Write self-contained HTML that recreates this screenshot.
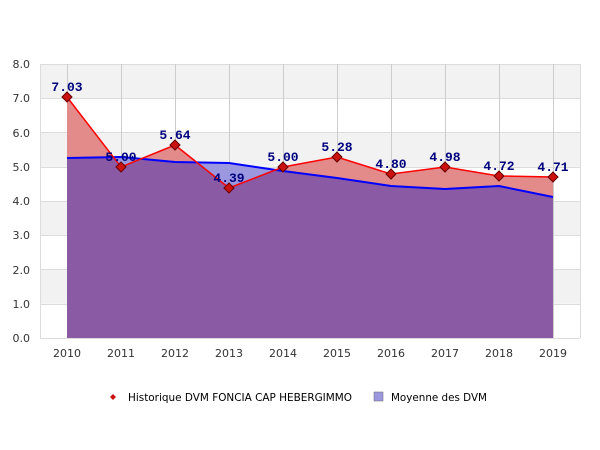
<!DOCTYPE html>
<html><head><style>body{margin:0;background:#fff}svg{display:block;font-family:"DejaVu Sans","Liberation Sans",sans-serif}</style></head><body>
<svg width="600" height="450" viewBox="0 0 600 450">
<rect x="40" y="64" width="540" height="34.25" fill="#f2f2f2"/>
<rect x="40" y="132.5" width="540" height="34.25" fill="#f2f2f2"/>
<rect x="40" y="201" width="540" height="34.25" fill="#f2f2f2"/>
<rect x="40" y="269.5" width="540" height="34.25" fill="#f2f2f2"/>
<g stroke="#dcdcdc" stroke-width="1">
<line x1="40" y1="64.5" x2="580" y2="64.5"/><line x1="40" y1="98.5" x2="580" y2="98.5"/><line x1="40" y1="132.5" x2="580" y2="132.5"/><line x1="40" y1="167.5" x2="580" y2="167.5"/><line x1="40" y1="201.5" x2="580" y2="201.5"/><line x1="40" y1="235.5" x2="580" y2="235.5"/><line x1="40" y1="269.5" x2="580" y2="269.5"/><line x1="40" y1="304.5" x2="580" y2="304.5"/><line x1="40" y1="338.5" x2="580" y2="338.5"/>
<line x1="40.5" y1="64" x2="40.5" y2="338"/><line x1="580.5" y1="64" x2="580.5" y2="338"/>
</g>
<g stroke="#cccccc"><line x1="67.5" y1="64" x2="67.5" y2="338"/><line x1="121.5" y1="64" x2="121.5" y2="338"/><line x1="175.5" y1="64" x2="175.5" y2="338"/><line x1="229.5" y1="64" x2="229.5" y2="338"/><line x1="283.5" y1="64" x2="283.5" y2="338"/><line x1="337.5" y1="64" x2="337.5" y2="338"/><line x1="391.5" y1="64" x2="391.5" y2="338"/><line x1="445.5" y1="64" x2="445.5" y2="338"/><line x1="499.5" y1="64" x2="499.5" y2="338"/><line x1="553.5" y1="64" x2="553.5" y2="338"/></g>
<defs>
<clipPath id="b"><polygon points="67,338 67,158 121,157 175,162 229,163 283,171 337,178 391,186 445,189 499,186 553,197 553,338"/></clipPath>
</defs>
<polygon points="67,338 67,158 121,157 175,162 229,163 283,171 337,178 391,186 445,189 499,186 553,197 553,338" fill="#9c98e0"/>
<polygon points="67,338 67,97 121,167 175,145 229,188 283,167 337,157 391,174 445,167 499,176 553,177 553,338" fill="#e38a8a"/>
<polygon points="67,338 67,97 121,167 175,145 229,188 283,167 337,157 391,174 445,167 499,176 553,177 553,338" fill="#8a5aa5" clip-path="url(#b)"/>
<polyline points="67,158 121,157 175,162 229,163 283,171 337,178 391,186 445,189 499,186 553,197" fill="none" stroke="#0000ff" stroke-width="2"/>
<polyline points="67,97 121,167 175,145 229,188 283,167 337,157 391,174 445,167 499,176 553,177" fill="none" stroke="#ff0000" stroke-width="1.5"/>
<g fill="#cc1111" stroke="#660000" stroke-width="1">
<polygon points="67,92 72,97 67,102 62,97"/><polygon points="121,162 126,167 121,172 116,167"/><polygon points="175,140 180,145 175,150 170,145"/><polygon points="229,183 234,188 229,193 224,188"/><polygon points="283,162 288,167 283,172 278,167"/><polygon points="337,152 342,157 337,162 332,157"/><polygon points="391,169 396,174 391,179 386,174"/><polygon points="445,162 450,167 445,172 440,167"/><polygon points="499,171 504,176 499,181 494,176"/><polygon points="553,172 558,177 553,182 548,177"/>
</g>
<g fill="#00007f" font-family="'Liberation Mono',monospace" font-weight="bold" font-size="13" text-anchor="middle">
<text x="67" y="91">7.03</text><text x="121" y="161">5.00</text><text x="175" y="139">5.64</text><text x="229" y="182">4.39</text><text x="283" y="161">5.00</text><text x="337" y="151">5.28</text><text x="391" y="168">4.80</text><text x="445" y="161">4.98</text><text x="499" y="170">4.72</text><text x="553" y="171">4.71</text>
</g>
<g fill="#333" font-size="11" text-anchor="end">
<text x="30" y="68">8.0</text><text x="30" y="102">7.0</text><text x="30" y="137">6.0</text><text x="30" y="171">5.0</text><text x="30" y="205">4.0</text><text x="30" y="239">3.0</text><text x="30" y="274">2.0</text><text x="30" y="308">1.0</text><text x="30" y="342">0.0</text>
</g>
<g fill="#333" font-size="11" text-anchor="middle">
<text x="67" y="357">2010</text><text x="121" y="357">2011</text><text x="175" y="357">2012</text><text x="229" y="357">2013</text><text x="283" y="357">2014</text><text x="337" y="357">2015</text><text x="391" y="357">2016</text><text x="445" y="357">2017</text><text x="499" y="357">2018</text><text x="553" y="357">2019</text>
</g>
<polygon points="113,394 116,397 113,400 110,397" fill="#cc1111"/>
<text x="128" y="401" font-size="11" fill="#000" textLength="224" lengthAdjust="spacingAndGlyphs">Historique DVM FONCIA CAP HEBERGIMMO</text>
<rect x="374" y="392" width="9" height="9" fill="#9c98e0" stroke="#666" stroke-width="0.5"/>
<text x="391" y="401" font-size="11" fill="#000" textLength="96" lengthAdjust="spacingAndGlyphs">Moyenne des DVM</text>
</svg>
</body></html>
